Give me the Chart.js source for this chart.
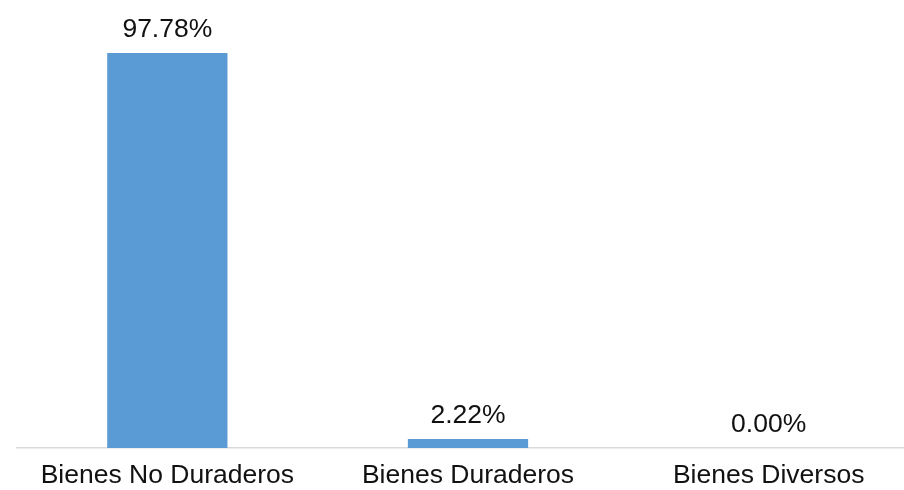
<!DOCTYPE html>
<html>
<head>
<meta charset="utf-8">
<script src="https://cdn.jsdelivr.net/npm/chart.js@4"></script>
<style>
  html, body { margin: 0; padding: 0; background: #fff; overflow: hidden; width: 904px; height: 490px; }
  #wrap { width: 919px; height: 490px; }
</style>
</head>
<body>
<div id="wrap"><canvas id="c"></canvas></div>
<script>
const categories = ["Bienes No Duraderos", "Bienes Duraderos", "Bienes Diversos"];
const values = [97.78, 2.22, 0.00];
const valueLabels = ["97.78%", "2.22%", "0.00%"];

const FONT = "'Liberation Sans', Arial, sans-serif";

const valueLabelPlugin = {
  id: 'valueLabels',
  afterDatasetsDraw(chart) {
    const ctx = chart.ctx;
    const meta = chart.getDatasetMeta(0);
    ctx.save();
    ctx.font = "26.5px " + FONT;
    ctx.fillStyle = "#111";
    ctx.textAlign = "center";
    ctx.textBaseline = "alphabetic";
    meta.data.forEach((bar, i) => {
      ctx.fillText(valueLabels[i], bar.x, bar.y - 16);
    });
    ctx.restore();
  }
};

new Chart(document.getElementById('c'), {
  type: 'bar',
  data: {
    labels: categories,
    datasets: [{
      data: values,
      backgroundColor: '#5b9bd5',
      borderWidth: 0,
      barPercentage: 0.4,
      categoryPercentage: 1.0
    }]
  },
  options: {
    responsive: true,
    maintainAspectRatio: false,
    animation: false,
    layout: { padding: { left: 17, right: 0, top: 44, bottom: 1 } },
    plugins: { legend: { display: false }, tooltip: { enabled: false } },
    scales: {
      x: {
        afterFit(scale) { scale.height = 41; },
        grid: { display: true, color: 'rgba(0,0,0,0)', drawOnChartArea: false, tickLength: 0 },
        border: { display: true, color: '#d9d9d9', width: 1.5 },
        ticks: { color: '#111', font: { family: FONT, size: 26.5 }, padding: 12, maxRotation: 0, autoSkip: false }
      },
      y: {
        display: false,
        min: 0,
        max: 100
      }
    }
  },
  plugins: [valueLabelPlugin]
});
</script>
</body>
</html>
